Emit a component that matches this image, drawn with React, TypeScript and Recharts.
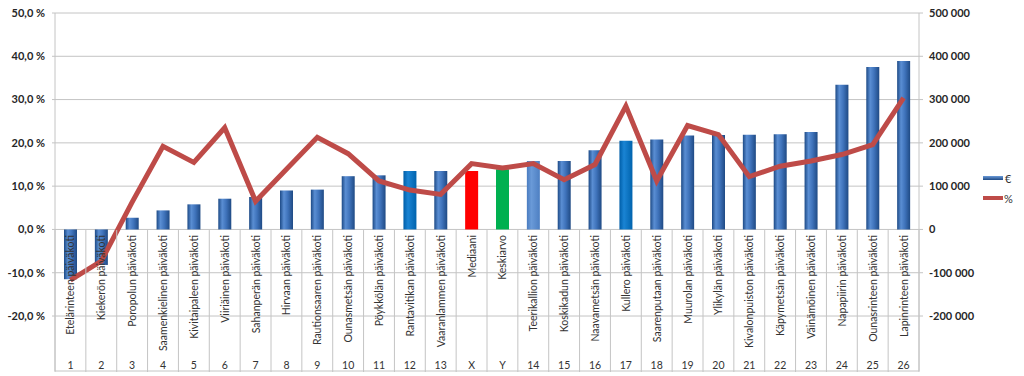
import React from 'react';
import { ComposedChart, Bar, Line, XAxis, YAxis, CartesianGrid, Cell } from 'recharts';

// category names (rotated labels) and their short codes (second label row)
const NAMES = [
  'Etelärinteen päiväkoti', 'Kiekerön päiväkoti', 'Poropolun päiväkoti', 'Saamenkielinen päiväkoti',
  'Kivitaipaleen päiväkoti', 'Viiriäinen päiväkoti', 'Sahanperän päiväkoti', 'Hirvaan päiväkoti',
  'Rautionsaaren päiväkoti', 'Ounasmetsän päiväkoti', 'Pöykkölän päiväkoti', 'Rantavitikan päiväkoti',
  'Vaaranlammen päiväkoti', 'Mediaani', 'Keskiarvo', 'Teerikallion päiväkoti',
  'Koskikadun päiväkoti', 'Naavametsän päiväkoti', 'Kullero päiväkoti', 'Saarenputaan päiväkoti',
  'Muurolan päiväkoti', 'Ylikylän päiväkoti', 'Kivalonpuiston päiväkoti', 'Käpymetsän päiväkoti',
  'Väinämöinen päiväkoti', 'Napapiirin päiväkoti', 'Ounasrinteen päiväkoti', 'Lapinrinteen päiväkoti',
];
const CODES = [
  '1', '2', '3', '4', '5', '6', '7', '8', '9', '10', '11', '12', '13', 'X', 'Y',
  '14', '15', '16', '17', '18', '19', '20', '21', '22', '23', '24', '25', '26',
];
// € series (right axis)
const EUROS = [
  -115000, -82000, 27000, 44000, 58000, 71000, 75000, 90000, 92000, 123000, 125000, 135000,
  135000, 135000, 139000, 158000, 158000, 183000, 205000, 208000, 217000, 218000, 219000,
  220000, 225000, 334000, 375000, 389000,
];
// % series (left axis)
const PCTS = [
  -11.7, -7.3, 6.3, 19.2, 15.5, 23.5, 6.5, 13.9, 21.3, 17.5, 11.2, 9.1, 8.1, 15.2, 14.2,
  15.2, 11.5, 15.0, 28.5, 11.2, 24.0, 21.9, 12.2, 14.6, 15.8, 17.3, 19.6, 30.4,
];
const PCT_TICKS = [-20, -10, 0, 10, 20, 30, 40, 50];
const EUR_TICKS = [-200000, -100000, 0, 100000, 200000, 300000, 400000, 500000];

// highlighted bars
const SPECIAL_FILL: Record<string, string> = {
  '12': 'url(#gBright)',
  '17': 'url(#gBright)',
  '14': 'url(#gLight)',
  X: '#ff0000',
  Y: '#00b050',
};

const data = CODES.map((code, i) => ({ code, name: NAMES[i], eur: EUROS[i], pct: PCTS[i] }));

const W = 1024;
const H = 376;
const TOP = 13;
const BOTTOM = 372;
const LEFT = 55;
const RIGHT = 919;
const PCT_MIN = -32.7;
const PCT_MAX = 50;
const ZERO_Y = TOP + ((PCT_MAX - 0) / (PCT_MAX - PCT_MIN)) * (BOTTOM - TOP);
const BAND = (RIGHT - LEFT) / CODES.length;
const GRID = '#c4c4c4';
const FONT = 'Lato, "Open Sans", sans-serif';

const fmtPct = (v: number) => `${v.toFixed(1).replace('.', ',')} %`;
const fmtEur = (v: number) => {
  const s = Math.abs(v).toString().replace(/\B(?=(\d{3})+(?!\d))/g, ' ');
  return v < 0 ? `-${s}` : s;
};

const CategoryTick = (props: any) => {
  const { x, payload, index } = props;
  const name = NAMES[index] ?? '';
  return (
    <g>
      <line x1={x + BAND / 2} x2={x + BAND / 2} y1={ZERO_Y} y2={BOTTOM} stroke={GRID} />
      {index === 0 && <line x1={x - BAND / 2} x2={x - BAND / 2} y1={ZERO_Y} y2={BOTTOM} stroke={GRID} />}
      <text
        x={x}
        y={ZERO_Y + 5}
        transform={`rotate(-90 ${x} ${ZERO_Y + 5})`}
        textAnchor="end"
        dominantBaseline="central"
        fontSize={10.5}
        fontFamily={FONT}
        fill="#333"
      >
        {name}
      </text>
      <text x={x} y={BOTTOM - 7} textAnchor="middle" dominantBaseline="central" fontSize={10.5} fontFamily={FONT} fill="#333">
        {payload.value}
      </text>
    </g>
  );
};

export default function App() {
  return (
    <div style={{ position: 'absolute', left: 0, top: 0, width: W, height: H, background: '#fff' }}>
      <ComposedChart width={W} height={H} data={data} margin={{ top: TOP, right: 40, bottom: H - BOTTOM, left: 0 }} barSize={13}>
        <defs>
          <linearGradient id="gBlue" x1="0" y1="0" x2="1" y2="0">
            <stop offset="0%" stopColor="#1d4a86" />
            <stop offset="30%" stopColor="#5a8ed3" />
            <stop offset="60%" stopColor="#3f73bb" />
            <stop offset="100%" stopColor="#1f4a84" />
          </linearGradient>
          <linearGradient id="gBright" x1="0" y1="0" x2="1" y2="0">
            <stop offset="0%" stopColor="#005ea8" />
            <stop offset="35%" stopColor="#1a84d4" />
            <stop offset="100%" stopColor="#0063ad" />
          </linearGradient>
          <linearGradient id="gLight" x1="0" y1="0" x2="1" y2="0">
            <stop offset="0%" stopColor="#4a7cc0" />
            <stop offset="35%" stopColor="#6a9ad8" />
            <stop offset="100%" stopColor="#4d7fc2" />
          </linearGradient>
        </defs>
        <CartesianGrid vertical={false} stroke={GRID} yAxisId="pct" />
        <XAxis
          dataKey="code"
          interval={0}
          axisLine={false}
          tickLine={false}
          tickSize={0}
          height={1}
          tick={<CategoryTick />}
        />
        <YAxis
          yAxisId="pct"
          domain={[PCT_MIN, PCT_MAX]}
          ticks={PCT_TICKS}
          tickFormatter={fmtPct}
          width={LEFT}
          axisLine={{ stroke: GRID }}
          tickLine={{ stroke: GRID }}
          tickSize={3}
          tickMargin={7}
          tick={{ fontSize: 11, fontWeight: 700, fill: '#262626', fontFamily: FONT }}
          allowDataOverflow
        />
        <YAxis
          yAxisId="eur"
          orientation="right"
          domain={[PCT_MIN * 10000, PCT_MAX * 10000]}
          ticks={EUR_TICKS}
          tickFormatter={fmtEur}
          width={65}
          axisLine={{ stroke: GRID }}
          tickLine={{ stroke: GRID }}
          tickSize={4}
          tickMargin={6}
          tick={{ fontSize: 11, fontWeight: 700, fill: '#262626', fontFamily: FONT, textAnchor: 'start' }}
          allowDataOverflow
        />
        <Bar yAxisId="eur" dataKey="eur" isAnimationActive={false}>
          {data.map((d) => (
            <Cell key={d.code} fill={SPECIAL_FILL[d.code] ?? 'url(#gBlue)'} />
          ))}
        </Bar>
        <Line
          yAxisId="pct"
          dataKey="pct"
          type="linear"
          stroke="#be4b48"
          strokeWidth={5}
          dot={false}
          isAnimationActive={false}
        />
      </ComposedChart>
      <div style={{ position: 'absolute', left: 983, top: 171, fontFamily: FONT, fontSize: 11, color: '#333' }}>
        <div style={{ display: 'flex', alignItems: 'center', height: 14 }}>
          <span style={{ width: 20, height: 4, background: 'linear-gradient(#6a9ad8, #1f4a84)', display: 'inline-block' }} />
          <span style={{ marginLeft: 2 }}>€</span>
        </div>
        <div style={{ display: 'flex', alignItems: 'center', height: 14, marginTop: 6 }}>
          <span style={{ width: 20, height: 4, background: '#be4b48', display: 'inline-block' }} />
          <span style={{ marginLeft: 1 }}>%</span>
        </div>
      </div>
    </div>
  );
}
